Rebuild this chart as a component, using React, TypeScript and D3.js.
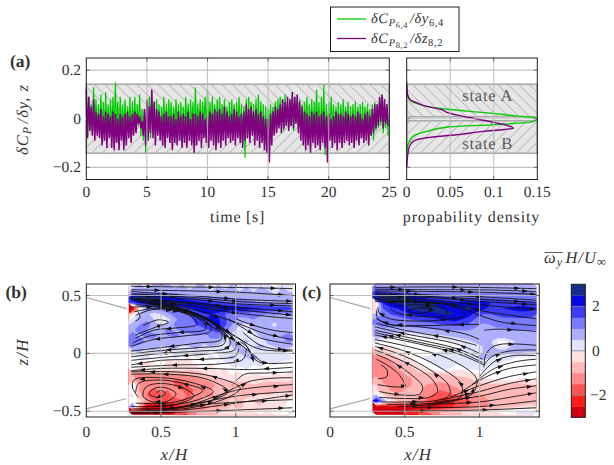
import React from 'react';
import * as d3 from 'd3';

const width = 614;
const height = 465;

// time series, one hi/lo pair per 0.2 s bin, in units of 0.01
const greenHi = [
  7,9,6,13,8, 6,10,7,11,6, 8,9,15,7,9, 6,8,5,9,7, 9,6,10,4,3,
  7,9,11,6,8, 6,5,9,6,8, 7,5,8,6,7, 5,9,6,8,7, 13,6,8,7,9,
  12,7,9,6,8, 9,6,8,5,7, 8,6,7,9,6, 5,8,9,7,6, 8,10,7,6,5,
  4,6,5,7,8, 9,8,10,7,8, 10,9,7,8,6, 7,9,6,8,7, 12,7,9,14,6,
  7,9,6,5,7, 6,8,5,7,5, 6,7,5,6,7, 5,6,4,6,7, 6,8,9,7,6,
];
const greenLo = [
  -7,-5,-6,-3,-5, -6,-4,-5,-7,-4, -5,-6,-3,-7,-5, -4,-6,-5,-7,-4, -5,-3,-7,-9,-14,
  -6,-8,-4,-7,-5, -6,-4,-7,-5,-3, -6,-5,-4,-7,-6, -5,-3,-6,-4,-7, -5,-4,-6,-3,-5,
  -6,-4,-5,-7,-4, -6,-3,-5,-7,-4, -5,-7,-4,-6,-9, -16,-8,-6,-5,-7, -5,-7,-8,-9,-14,
  -6,-4,-3,-5,-2, -3,-5,-2,-4,-3, -5,-2,-4,-6,-5, -4,-6,-5,-7,-4, -5,-8,-6,-15,-7,
  -6,-4,-7,-5,-8, -5,-7,-4,-6,-5, -7,-5,-6,-8,-5, -6,-4,-7,-9,-5, -4,-3,-6,-4,-7,
];
const purpleHi = [
  12,9,5,8,3, 2,4,1,3,2, 1,3,2,0,2, 1,2,3,1,2, 3,2,1,-1,4,
  8,5,12,7,4, 3,1,2,3,1, 1,2,0,3,1, 2,1,3,0,2, 2,1,3,2,0,
  1,3,2,4,3, 4,2,5,3,1, 2,4,3,1,2, 3,6,4,5,3, 4,2,3,1,0,
  0,2,3,5,4, 6,8,7,9,8, 11,9,10,7,5, 3,2,1,3,2, 3,1,2,3,1,
  2,0,1,3,2, 2,1,3,2,1, 2,1,3,2,0, 2,3,1,4,6, 6,9,10,8,6,
];
const purpleLo = [
  -8,-5,-7,-9,-7, -8,-11,-9,-12,-8, -12,-13,-10,-13,-9, -13,-11,-8,-10,-7, -6,-2,-4,-7,-11,
  -9,-6,-8,-11,-7, -9,-11,-12,-8,-10, -13,-10,-11,-9,-12, -10,-12,-9,-11,-14, -11,-9,-12,-8,-10,
  -12,-9,-11,-13,-10, -12,-9,-11,-8,-10, -9,-11,-8,-10,-12, -9,-8,-10,-7,-11, -9,-12,-10,-13,-14,
  -18,-11,-7,-6,-4, -6,-4,-3,-5,-3, -4,-2,-6,-9,-11, -13,-11,-14,-10,-12, -11,-13,-10,-12,-18,
  -9,-12,-10,-13,-10, -12,-10,-9,-11,-10, -12,-9,-11,-8,-10, -9,-11,-7,-6,-4, -3,-1,-4,-2,-3,
];

// probability density against deltaCp
const pdfGreen: [number, number][] = [
  [0, 0.154], [0, 0.105], [0.002, 0.085], [0.006, 0.07], [0.014, 0.06], [0.023, 0.051], [0.05, 0.038],
  [0.09, 0.025], [0.125, 0.012], [0.15, 0.002], [0.145, -0.012], [0.096, -0.025], [0.05, -0.033],
  [0.023, -0.052], [0.009, -0.068], [0.004, -0.087], [0.001, -0.11], [0, -0.14],
];
const pdfPurple: [number, number][] = [
  [0, 0.14], [0.001, 0.1], [0.004, 0.078], [0.012, 0.065], [0.023, 0.051], [0.04, 0.038], [0.047, 0.025],
  [0.073, 0.004], [0.1, -0.015], [0.1225, -0.039], [0.112, -0.044], [0.088, -0.052], [0.057, -0.066],
  [0.023, -0.078], [0.009, -0.09], [0.004, -0.107], [0.002, -0.13], [0, -0.2],
];

const timeTicks = [0, 5, 10, 15, 20, 25];
const pdfTicks = [0, 0.05, 0.1, 0.15];
const cpTicks = [-0.2, 0, 0.2];
const xhTicks = [0, 0.5, 1];
const zhTicks = [-0.5, 0, 0.5];
const stateLimits = [-0.142, -0.008, 0.008, 0.142];

const cbLevels = [-3, -2.5, -2, -1.5, -1, -0.5, 0, 0.5, 1, 1.5, 2, 2.5];
const cbColors = ['#d2000f', '#ff1c1c', '#ff5252', '#ff8a8a', '#ffb9b9', '#ffe0e0',
  '#e2e2fa', '#aeaeff', '#7a7aff', '#3c3cf8', '#0808e0', '#172c8c'];

const gridCols = 23;
const gridRows = 24;

const fieldB = [
  .4,.6,.3,.7,.5,.7,.4,.6,.3,.5,.6,.2,.6,.4,.6,.3,.5,.2,.5,.4,.1,.5,.3,
  .7,.8,.9,.6,.8,.7,.8,.6,.7,.6,.7,.5,.7,.6,.6,.5,.6,.5,.5,.6,.4,.6,.5,
  3,3,2.9,2.8,2.6,2.3,2,1.7,1.4,1.3,1.1,1.1,1,1,.9,.9,.8,.8,.7,.7,.7,.6,.6,
  1.5,2,2.2,2.3,2.4,2.6,2.7,2.7,2.6,2.3,2.1,1.9,1.7,1.6,1.5,1.3,1.2,1.1,1,1,.9,.9,.8,
  -3,-.5,.8,1.2,1.3,1.4,1.5,1.7,1.9,2.2,2.5,2.6,2.6,2.4,2.3,2.3,2.2,2.1,2,1.9,1.8,1.8,1.7,
  -.5,.5,.6,.3,.5,.9,1.2,1.3,1.5,1.7,1.9,2,1.7,1.5,1.3,1.1,1.3,1.1,1.2,1,1.1,.9,1,
  .3,.7,.9,.5,-.2,.3,.9,1.2,1.4,1.6,1.9,2.1,2.1,1.6,1.2,.9,.8,1,.7,.8,.6,.8,.7,
  .6,1,1.2,.8,.3,.6,1.1,1.3,1.2,1.5,1.7,1.9,2.2,1.6,1,.5,.3,.7,.5,.6,.4,.7,.8,
  .9,1.2,1,.7,.9,1.1,.9,1.1,1.3,1,1.3,1.5,1.7,1.2,.7,.2,.1,.5,.8,.5,.6,.9,.7,
  1.3,.9,1.1,1.2,.8,1,1.2,.9,.7,1,.8,1.1,1.2,.8,.3,.5,.2,.1,.6,.9,.7,1,1.2,
  1.5,1.3,.9,.8,1,.7,.5,.8,1,.6,.7,.9,.8,.4,.6,.3,.6,.3,.2,.6,1,.8,1.1,
  1,.8,.6,.9,.4,.6,.8,.3,.5,.7,.3,.5,.4,.2,.5,.7,.3,.5,.7,.4,.5,.8,.6,
  .3,.5,.1,.3,.6,.1,.2,.5,0,.3,.5,0,.2,.5,.3,.5,.7,.4,.2,.4,.3,.2,.1,
  0,.2,.4,0,.1,-.1,.3,0,-.2,.2,0,.3,.1,.4,.6,.3,.5,.7,.4,.5,.2,.4,.2,
  -.1,0,-.3,-.2,.1,-.4,-.3,-.5,-.2,-.1,.1,-.2,.2,.1,.3,.5,.3,.2,.4,.1,.3,0,.1,
  .1,-.2,-.1,.1,-.2,-.1,-.3,-.1,-.4,-.2,-.1,-.3,0,-.2,.1,-.1,.2,0,.1,-.1,0,.1,0,
  -1,-1.1,-1,-.9,-1,-1.1,-.9,-1,-.8,-.9,-.6,-.4,-.2,-.3,-.1,-.2,0,-.2,-.1,0,-.2,-.1,-.2,
  -.8,-1.3,-1.2,-1.4,-1.2,-1.3,-1.5,-1.4,-1.3,-1.1,-1,-.8,-.6,-.4,-.3,-.2,-.3,-.5,-.3,-.4,-.2,-.3,-.2,
  .2,-1,-1.3,-1.1,-1,-1.2,-1.6,-1.8,-1.4,-1.5,-1.1,-1.2,-.9,-.7,-1.1,-.9,-.7,-.5,-.6,-.7,-.9,-.8,-.7,
  .1,-1.1,-1.4,-1.7,-1.3,-1.5,-1.3,-1.5,-1.8,-1.3,-1.1,-1,-.8,-.6,-.8,-1,-.7,-.8,-.9,-.6,-.7,-.5,-.6,
  .2,-.6,-1.5,-1.8,-1.9,-1.6,-1.4,-1.3,-1.6,-1.2,-1,-1.2,-.8,-.5,-.6,-.4,-.7,-.5,-.3,-.5,-.3,-.4,-.2,
  .1,-.3,-1.2,-1.5,-1.7,-1.9,-1.7,-1.6,-1.3,-1.1,-.9,-.7,-.9,-.6,-.4,-.6,-.3,-.5,-.6,-.3,-.2,-.4,-.1,
  1.2,-.9,-2.7,-2.8,-2.9,-2.8,-2.4,-2,-1.8,-1.4,-1.6,-1,-1.1,-.8,-.5,-.7,-.4,-.3,-.5,-.2,-.4,-.2,-.1,
  -3,-3,-3,-3,-2.9,-2.6,-2,-1.7,-1.2,-1,-.8,-.6,-.5,-.4,-.3,-.2,-.4,-.2,-.1,-.2,-.1,0,.2,
];

const fieldC = [
  1,.9,.9,.9,.9,.9,.9,.9,.8,.8,.8,.8,.8,.8,.8,.8,.8,.8,.8,.8,.8,.7,.7,
  1.7,1.6,1.5,1.3,1.2,1.1,1,1,1,1,1,1,1,1,1,1,1,1,1,1,1,1,1,
  2.9,3,3,2.9,2.7,2.4,2.1,1.9,1.7,1.6,1.5,1.4,1.3,1.3,1.3,1.3,1.3,1.3,1.3,1.2,1.2,1.2,1.2,
  -.2,2,2.4,2.5,2.6,2.6,2.6,2.6,2.5,2.4,2.2,2.1,2.2,2.4,2.4,2.2,2,1.9,1.8,1.7,1.7,1.7,1.6,
  -.2,1.5,1.8,2,2.3,2.6,2.9,2.9,2.7,2.5,2.4,2.4,2.5,2.6,2.4,2.1,1.9,1.9,2,2.1,2.2,2.2,2.1,
  .5,1.3,1.5,1.6,1.8,2,2.2,2.3,2.4,2.5,2.6,2.5,2.4,2.2,1.8,1.5,1.5,1.6,1.7,1.7,1.8,1.8,1.7,
  1,1.2,1.3,1.3,1.4,1.5,1.6,1.7,1.8,2,2.1,2.2,2,1.8,1.4,1.2,1.2,1.3,1.4,1.4,1.4,1.4,1.3,
  1,1.1,1.1,1.2,1.2,1.2,1.2,1.3,1.3,1.4,1.5,1.6,1.6,1.4,1.1,.9,1,1.1,1.1,1.2,1.2,1.2,1.1,
  .9,.9,.8,.7,.7,.7,.8,.8,.9,.9,1,1,1,1,.9,.8,.9,.9,.9,1,1,1,1,
  .7,.6,.4,.2,.1,.1,.1,.2,.3,.4,.5,.6,.7,.8,.8,.7,.7,.8,.8,.8,.8,.8,.8,
  .3,.1,0,-.1,0,0,.1,.1,0,0,.1,.2,.3,.4,.6,.7,.6,.1,0,.4,.6,.6,.6,
  0,-.2,-.2,-.1,0,0,0,0,0,0,0,0,.1,.3,.3,.5,.7,.3,.1,.5,.5,.5,.5,
  -.6,-.6,-.3,-.2,-.1,0,0,0,0,.2,.2,.3,.3,.3,.4,.5,.5,.7,.7,.6,.6,.5,.5,
  -1.2,-1.1,-.8,-.5,-.3,-.1,.1,.2,.3,.3,.3,.4,.4,.4,.5,.6,.5,.3,.2,.2,.1,.1,.1,
  -1.4,-1.3,-1.1,-.8,-.5,-.4,-.1,.1,.2,.3,.3,.3,.3,.3,.4,.4,.3,.2,.1,.1,0,0,0,
  -1.4,-1.4,-1.2,-1,-.8,-.6,-.3,-.2,-.1,.2,.3,-.1,-.1,.2,.3,.2,.1,.1,0,0,0,0,0,
  -1.3,-1.4,-1.2,-1.1,-1,-.8,-.6,-.6,-.6,-.6,-.5,-.4,-.4,-.3,-.3,.1,0,0,0,0,0,0,0,
  -.7,-1.2,-1.3,-1.2,-1.1,-1,-.8,-.8,-.8,-.8,-.7,-.7,-.6,-.6,-.4,-.3,-.2,-.1,-.1,0,-.2,-.2,0,
  -.5,-.9,-1.2,-1.2,-1.1,-1,-.9,-1,-1.1,-1.2,-1.1,-.9,-.8,-.7,-.6,-.6,-.6,-.6,-.6,-.7,-.7,-.6,-.5,
  -.4,-.7,-1,-1.2,-1,-.9,-.9,-1.1,-1.3,-1.5,-1.4,-1.2,-1,-.9,-.8,-.8,-.7,-.7,-.7,-.7,-.7,-.7,-.7,
  .6,-.4,-.7,-.9,-.9,-.9,-1,-1.2,-1.6,-1.8,-1.7,-1.6,-1.5,-1.2,-1.1,-1,-.8,-.8,-.8,-.7,-.7,-.7,-.7,
  2.5,1,-.2,-.5,-.7,-.9,-1.2,-1.6,-2,-2.2,-2.3,-2,-1.8,-1.6,-1.4,-1.2,-1,-.9,-.8,-.8,-.7,-.7,-.7,
  -2.8,-2.9,-2.6,-2.6,-2.7,-2.7,-2.6,-2.7,-2.7,-2.6,-2.3,-2,-1.7,-1.5,-1.3,-1.1,-.9,-.8,-.6,-.6,-.5,-.4,-.4,
  -3,-3,-2.8,-2.6,-2.5,-2.3,-2,-1.6,-1.2,-1,-.8,-.6,-.5,-.4,-.3,-.3,-.2,-.2,0,.1,.2,.2,.2,
];

type Pt = [number, number];

// streamlines in (x/H, z/H), listed along the flow direction
const streamsB: Pt[][] = [
  [[.3,.58],[.6,.575],[1,.57],[1.38,.56]],
  [[.3,.55],[.7,.54],[1,.53],[1.38,.5]],
  [[.3,.535],[.7,.5],[1,.47],[1.38,.45]],
  [[.3,.515],[.7,.485],[1,.45],[1.38,.43]],
  [[.3,.5],[.7,.47],[1,.43],[1.38,.41]],
  [[.3,.48],[.7,.44],[1,.4],[1.38,.36]],
  [[.3,.47],[.7,.43],[1,.38],[1.38,.33]],
  [[.3,.465],[.65,.42],[1,.35],[1.38,.3]],
  [[.35,.45],[.65,.4],[.95,.29],[1.2,.17],[1.38,.12]],
  [[.4,.44],[.65,.38],[.85,.27],[1.02,.13],[1.15,.04],[1.38,.02]],
  [[.45,.43],[.7,.35],[.9,.18],[1.05,.06],[1.15,-.05],[1.2,-.09]],
  [[.55,.42],[.78,.32],[.95,.18],[1.05,.1],[1.1,0],[1.12,-.07]],
  [[1,.3],[1.1,.25],[1.25,.2],[1.38,.18]],
  [[.95,.3],[1.05,.22],[1.15,.14],[1.38,.08]],
  [[.33,.33],[.45,.38],[.6,.37],[.72,.3],[.74,.25],[.6,.22],[.45,.2],[.33,.13]],
  [[.32,.36],[.48,.39],[.66,.35],[.78,.27],[.8,.21],[.62,.18],[.42,.15],[.31,.09]],
  [[.3,.4],[.5,.4],[.7,.34],[.83,.24],[.83,.19],[.65,.15],[.45,.12],[.3,.06]],
  [[.33,.42],[.6,.39],[.78,.32],[.9,.2],[.9,.12],[.75,.09],[.5,.05],[.3,.02]],
  [[.36,.44],[.62,.39],[.82,.28],[.93,.16],[.92,.08],[.75,.05],[.5,.025],[.3,-.005]],
  [[.4,.43],[.68,.37],[.85,.26],[.96,.12],[.95,.05],[.75,.02],[.5,0],[.3,-.03]],
  [[.5,.42],[.74,.33],[.92,.2],[1,.1],[.99,.03],[.85,0],[.55,-.03],[.3,-.06]],
  [[.33,.16],[.45,.22],[.55,.27],[.48,.29],[.38,.24]],
  [[.34,.37],[.36,.31],[.33,.28]],
  [[1.02,.04],[1,-.02],[.8,-.05],[.5,-.06],[.3,-.1]],
  [[1.07,.04],[1.05,-.05],[.9,-.09],[.6,-.1],[.3,-.12]],
  [[1.38,-.12],[1.1,-.14],[.8,-.13],[.5,-.13],[.3,-.15]],
  [[1.03,.1],[1.08,.05],[1.12,-.04],[1.17,-.08],[1.38,-.08]],
  [[1.05,.18],[1.15,.08],[1.25,.04],[1.38,.03]],
  [[.47,-.34],[.5,-.32],[.53,-.35],[.48,-.38],[.42,-.35],[.46,-.3],[.54,-.3],[.6,-.35],[.55,-.41],[.45,-.42],[.38,-.37],[.4,-.29],[.5,-.26],[.65,-.3],[.72,-.37],[.6,-.44],[.45,-.46]],
  [[.33,-.43],[.55,-.43],[.7,-.38],[.78,-.32],[.65,-.26],[.48,-.23],[.35,-.26],[.33,-.34]],
  [[.3,-.46],[.55,-.45],[.75,-.4],[.85,-.33],[.7,-.25],[.5,-.21],[.32,-.23],[.31,-.3],[.35,-.38]],
  [[.3,-.48],[.6,-.47],[.85,-.4],[.95,-.33],[.8,-.22],[.55,-.18],[.3,-.18]],
  [[.3,-.5],[.7,-.47],[.95,-.38],[1.03,-.3],[.85,-.2],[.6,-.16],[.3,-.16]],
  [[.3,-.52],[.8,-.5],[1.38,-.47]],
  [[.3,-.51],[.65,-.49],[1,-.43],[1.38,-.36]],
  [[.5,-.49],[.9,-.43],[1.38,-.4]],
  [[.6,-.47],[1,-.37],[1.38,-.33]],
  [[.7,-.45],[1,-.32],[1.38,-.27]],
  [[.85,-.4],[1.1,-.24],[1.38,-.21]],
  [[1,-.24],[1.06,-.18],[1.2,-.17],[1.38,-.16]],
];

const streamsC: Pt[][] = [
  [[.3,.57],[.7,.575],[1,.57],[1.38,.56]],
  [[.3,.555],[.7,.55],[1,.55],[1.38,.535]],
  [[.3,.54],[.7,.535],[1,.53],[1.38,.51]],
  [[.3,.525],[.7,.505],[1,.49],[1.38,.46]],
  [[.3,.51],[.7,.49],[1,.47],[1.38,.44]],
  [[.3,.5],[.7,.48],[1,.45],[1.38,.42]],
  [[.3,.48],[.7,.46],[1,.42],[1.38,.38]],
  [[.3,.465],[.8,.43],[1.05,.36],[1.38,.3]],
  [[.3,.45],[.8,.42],[1.02,.32],[1.15,.27],[1.38,.24]],
  [[.52,.37],[.6,.395],[.68,.38],[.65,.355],[.55,.35],[.52,.37]],
  [[.43,.41],[.6,.42],[.78,.38],[.78,.33],[.6,.32],[.45,.35],[.4,.39]],
  [[.38,.44],[.6,.44],[.85,.4],[.9,.33],[.75,.29],[.55,.28],[.4,.3],[.33,.35],[.32,.4]],
  [[1,.25],[.9,.25],[.6,.24],[.4,.25],[.32,.3],[.31,.38]],
  [[1.03,.2],[1.12,.21],[1.38,.19]],
  [[1,.12],[.9,.17],[.6,.23],[.4,.25],[.31,.3]],
  [[.98,.07],[.8,.13],[.5,.2],[.31,.26]],
  [[1,0],[.85,.08],[.5,.17],[.3,.23]],
  [[1.02,-.05],[.85,.04],[.55,.13],[.3,.2]],
  [[1.02,-.08],[.85,.02],[.58,.1],[.3,.18]],
  [[1.03,-.1],[.85,0],[.6,.08],[.3,.16]],
  [[.45,-.46],[.75,-.43],[.95,-.35],[.98,-.22],[.8,-.05],[.55,.05],[.3,.12]],
  [[.38,-.44],[.7,-.43],[.87,-.38],[.88,-.27],[.72,-.11],[.5,.02],[.3,.09]],
  [[.34,-.42],[.5,-.42],[.7,-.41],[.8,-.36],[.79,-.27],[.63,-.11],[.45,0],[.3,.06]],
  [[.33,-.38],[.5,-.39],[.66,-.38],[.72,-.33],[.68,-.22],[.54,-.1],[.4,-.02],[.3,.03]],
  [[.33,-.33],[.48,-.36],[.6,-.35],[.62,-.29],[.52,-.16],[.4,-.06],[.31,-.01]],
  [[.32,-.27],[.44,-.29],[.5,-.28],[.46,-.18],[.38,-.1],[.31,-.05]],
  [[.32,-.22],[.38,-.2],[.38,-.14],[.34,-.1]],
  [[1.03,-.12],[1.04,-.02],[1.08,.05],[1.15,.08],[1.38,.07]],
  [[1.03,-.1],[1.08,-.03],[1.2,.02],[1.38,.03]],
  [[1,-.2],[1.1,-.07],[1.22,-.02],[1.38,-.02]],
  [[.95,-.27],[1.1,-.13],[1.25,-.07],[1.38,-.05]],
  [[.88,-.33],[1.05,-.2],[1.2,-.13],[1.38,-.1]],
  [[.8,-.38],[1,-.28],[1.2,-.2],[1.38,-.16]],
  [[.75,-.4],[1,-.33],[1.2,-.26],[1.38,-.22]],
  [[.7,-.42],[1,-.37],[1.2,-.31],[1.38,-.28]],
  [[.65,-.44],[1,-.42],[1.2,-.38],[1.38,-.34]],
  [[.55,-.47],[1,-.46],[1.38,-.41]],
  [[.45,-.5],[1,-.49],[1.38,-.47]],
];

const bodyEdges: Pt[][] = [
  [[0,.483],[.27,.387]],
  [[0,-.48],[.27,-.39]],
];

const serif = '"Liberation Serif", serif';
const inkColor = '#333';
const gridColor = '#b9b9b9';

const xTime = d3.scaleLinear().domain([0, 25]).range([86.3, 389.3]);
const yCp = d3.scaleLinear().domain([-0.25, 0.25]).range([179.5, 58]);
const xPdf = d3.scaleLinear().domain([0, 0.15]).range([406.7, 537.3]);
const yZ = d3.scaleLinear().domain([-0.55, 0.6]).range([417, 284]);
const yBar = d3.scaleLinear().domain([-3, 3]).range([417.3, 284.3]);

const zigzag = (hi: number[], lo: number[]): Pt[] =>
  hi.flatMap((h, i) => [[i * 0.2, h / 100], [i * 0.2 + 0.1, lo[i] / 100]] as Pt[]);

const timeLine = d3.line<Pt>().x((d) => xTime(d[0])).y((d) => yCp(d[1]));
const pdfLine = d3.line<Pt>().x((d) => xPdf(d[0])).y((d) => yCp(d[1])).curve(d3.curveMonotoneY);

const fmt = (v: number) => String(v).replace('-', '\u2212');

// walk along a polyline and drop arrow heads every so many pixels
function arrowsAlong(pts: Pt[], first: number, step: number) {
  const out: { x: number; y: number; a: number }[] = [];
  let walked = 0;
  let next = first;
  for (let i = 1; i < pts.length; i++) {
    const [x0, y0] = pts[i - 1];
    const [x1, y1] = pts[i];
    const len = Math.hypot(x1 - x0, y1 - y0);
    while (next <= walked + len && len > 0) {
      const f = (next - walked) / len;
      out.push({ x: x0 + (x1 - x0) * f, y: y0 + (y1 - y0) * f, a: (Math.atan2(y1 - y0, x1 - x0) * 180) / Math.PI });
      next += step;
    }
    walked += len;
  }
  return out;
}

const Ticks = ({ xs, ys, x, y }: { xs: number[]; ys: number[]; x: any; y: any }) => {
  const [x0, x1] = x.range();
  const [y1, y0] = y.range();
  return (
    <g>
      {xs.map((t) => (
        <g key={`x${t}`}>
          <line x1={x(t)} x2={x(t)} y1={y0} y2={y1} stroke={gridColor} strokeWidth={1.1} opacity={0.85} />
          <line x1={x(t)} x2={x(t)} y1={y0} y2={y0 + 3.5} stroke="#555" strokeWidth={0.8} />
          <line x1={x(t)} x2={x(t)} y1={y1} y2={y1 - 3.5} stroke="#555" strokeWidth={0.8} />
        </g>
      ))}
      {ys.map((t) => (
        <g key={`y${t}`}>
          <line x1={x0} x2={x1} y1={y(t)} y2={y(t)} stroke={gridColor} strokeWidth={1.1} opacity={0.85} />
          <line x1={x0} x2={x0 + 3.5} y1={y(t)} y2={y(t)} stroke="#555" strokeWidth={0.8} />
          <line x1={x1} x2={x1 - 3.5} y1={y(t)} y2={y(t)} stroke="#555" strokeWidth={0.8} />
        </g>
      ))}
    </g>
  );
};

const Frame = ({ x, y }: { x: any; y: any }) => {
  const [x0, x1] = x.range();
  const [y1, y0] = y.range();
  return <rect x={x0} y={y0} width={x1 - x0} height={y1 - y0} fill="none" stroke="#1c1c1c" strokeWidth={1} />;
};

const StateBands = ({ x }: { x: any }) => {
  const [x0, x1] = x.range();
  const band = (lo: number, hi: number, pat: string) => (
    <g>
      <rect x={x0} y={yCp(hi)} width={x1 - x0} height={yCp(lo) - yCp(hi)} fill="#e6e6e6" />
      <rect x={x0} y={yCp(hi)} width={x1 - x0} height={yCp(lo) - yCp(hi)} fill={`url(#${pat})`} stroke="#a9a9a9" strokeWidth={1.6} />
    </g>
  );
  return (
    <g>
      {band(stateLimits[2], stateLimits[3], 'hatchA')}
      {band(stateLimits[0], stateLimits[1], 'hatchB')}
    </g>
  );
};

const FlowPanel = ({ field, streams, left, right, label, labelX }: {
  field: number[]; streams: Pt[][]; left: number; right: number; label: string; labelX: number;
}) => {
  const x = d3.scaleLinear().domain([0, 1.4]).range([left, right]);
  // grid cells run from 0.285 to 1.38 in x/H and from 0.6 to -0.53 in z/H
  const gx = d3.scaleLinear().domain([0, gridCols]).range([x(0.285), x(1.38)]);
  const gy = d3.scaleLinear().domain([0, gridRows]).range([yZ(0.6), yZ(-0.53)]);
  const thresholds = [-99, ...cbLevels.slice(1, 6), -0.15, 0.15, ...cbLevels.slice(7)];
  const colors = [...cbColors.slice(0, 5), cbColors[5], '#ffffff', ...cbColors.slice(6)];
  const contours = d3.contours().size([gridCols, gridRows]).smooth(true).thresholds(thresholds)(field);
  const path = d3.geoPath(d3.geoTransform({
    point(px: number, py: number) {
      (this as any).stream.point(gx(px), gy(py));
    },
  }));
  const streamLine = d3.line<Pt>().curve(d3.curveCatmullRom.alpha(0.5));
  const pts = streams.map((s) => s.map((d) => [x(d[0]), yZ(d[1])] as Pt));
  return (
    <g>
      {contours.map((c, i) => (
        <path key={i} d={path(c as any) || ''} fill={colors[i]} stroke={colors[i]} strokeWidth={0.3} />
      ))}
      {pts.map((s, i) => (
        <path key={i} d={streamLine(s) || ''} fill="none" stroke="#111" strokeWidth={0.9} />
      ))}
      {pts.flatMap((s, i) => arrowsAlong(s, 18 + (i % 4) * 8, 62)).map((a, i) => (
        <path key={i} d="M3,0L-2.5,2L-2.5,-2Z" fill="#111" transform={`translate(${a.x},${a.y}) rotate(${a.a})`} />
      ))}
      {bodyEdges.map((e, i) => (
        <line key={i} x1={x(e[0][0])} y1={yZ(e[0][1])} x2={x(e[1][0])} y2={yZ(e[1][1])} stroke="#a5a5a5" strokeWidth={1.2} />
      ))}
      <Ticks xs={[0.5, 1]} ys={zhTicks} x={x} y={yZ} />
      <Frame x={x} y={yZ} />
      {xhTicks.map((t) => (
        <text key={t} x={x(t)} y={437} textAnchor="middle" fontSize={15.5}>{t}</text>
      ))}
      <text x={x(0.59)} y={460} textAnchor="middle" fontSize={17} fontStyle="italic" letterSpacing={1.2}>x/H</text>
      <text x={labelX} y={298} fontSize={17.5} fontWeight="bold">{label}</text>
    </g>
  );
};

const Sub = ({ base, sub, subsub, end, size = 10.5 }: {
  base: string; sub: string; subsub?: string; end?: boolean; size?: number;
}) => (
  <>
    <tspan fontStyle="italic">{base}</tspan>
    <tspan fontSize={size} dy={3} fontStyle={end ? 'normal' : 'italic'}>{sub}</tspan>
    {subsub && <tspan fontSize={8.5} dy={2}>{subsub}</tspan>}
    {!end && <tspan dy={subsub ? -5 : -3}>{'\u200a'}</tspan>}
  </>
);

export default function App() {
  return (
    <svg
      width={width}
      height={height}
      style={{ position: 'absolute', left: 0, top: 0, background: '#fff' }}
      fontFamily={serif}
      fill={inkColor}
      textRendering="geometricPrecision"
    >
      <defs>
        <pattern id="hatchA" width={7.5} height={7.5} patternUnits="userSpaceOnUse" patternTransform="rotate(45)">
          <line x1={0} x2={7.5} y1={0} y2={0} stroke="#a2a2a2" strokeWidth={1.2} />
        </pattern>
        <pattern id="hatchB" width={7.5} height={7.5} patternUnits="userSpaceOnUse" patternTransform="rotate(-45)">
          <line x1={0} x2={7.5} y1={0} y2={0} stroke="#a2a2a2" strokeWidth={1.2} />
        </pattern>
      </defs>

      {/* legend */}
      <rect x={330.5} y={7} width={128.5} height={44.5} fill="#fff" stroke="#1c1c1c" strokeWidth={1} />
      <line x1={337} x2={366} y1={19} y2={19} stroke="#00cc00" strokeWidth={1.3} />
      <line x1={337} x2={366} y1={38.5} y2={38.5} stroke="#800080" strokeWidth={1.3} />
      <text x={371} y={23} fontSize={14.5} letterSpacing={0.6}>
        <Sub base={'\u03b4C'} sub="P" subsub="6,4" />
        <tspan fontStyle="italic">{'/\u03b4y'}</tspan>
        <Sub base="" sub="6,4" end />
      </text>
      <text x={371} y={43} fontSize={14.5} letterSpacing={0.6}>
        <Sub base={'\u03b4C'} sub="P" subsub="8,2" />
        <tspan fontStyle="italic">{'/\u03b4z'}</tspan>
        <Sub base="" sub="8,2" end />
      </text>

      {/* panel a, time series */}
      <text x={10} y={67} fontSize={17.5} fontWeight="bold">(a)</text>
      <StateBands x={xTime} />
      <Ticks xs={[]} ys={cpTicks} x={xTime} y={yCp} />
      <path d={timeLine(zigzag(greenHi, greenLo)) || ''} fill="none" stroke="#00cc00" strokeWidth={1.2} />
      <path d={timeLine(zigzag(purpleHi, purpleLo)) || ''} fill="none" stroke="#800080" strokeWidth={1.5} />
      <Ticks xs={timeTicks.slice(1, -1)} ys={[]} x={xTime} y={yCp} />
      <Frame x={xTime} y={yCp} />
      {timeTicks.map((t) => (
        <text key={t} x={xTime(t)} y={197} textAnchor="middle" fontSize={15.5}>{t}</text>
      ))}
      {cpTicks.map((t) => (
        <text key={t} x={81} y={yCp(t) + 5} textAnchor="end" fontSize={15.5}>{fmt(t)}</text>
      ))}
      <text x={237.5} y={222} textAnchor="middle" fontSize={16} letterSpacing={0.7}>time [s]</text>
      <text transform={`translate(28,119.5) rotate(-90)`} textAnchor="middle" fontSize={16.5} letterSpacing={1}>
        <Sub base={'\u03b4C'} sub="P" size={12} />
        <tspan fontStyle="italic">{'/\u03b4y, z'}</tspan>
      </text>

      {/* panel a, density */}
      <StateBands x={xPdf} />
      <path d={pdfLine(pdfGreen) || ''} fill="none" stroke="#00cc00" strokeWidth={1.4} />
      <path d={pdfLine(pdfPurple) || ''} fill="none" stroke="#800080" strokeWidth={1.4} />
      <Ticks xs={pdfTicks.slice(1, -1)} ys={cpTicks} x={xPdf} y={yCp} />
      <Frame x={xPdf} y={yCp} />
      {pdfTicks.map((t) => (
        <text key={t} x={xPdf(t)} y={197} textAnchor="middle" fontSize={15.5}>{t}</text>
      ))}
      <text x={471.5} y={222} textAnchor="middle" fontSize={16} letterSpacing={0.9}>propability density</text>
      <text x={487.7} y={100.5} textAnchor="middle" fontSize={16.5} fill="#5c5c5c" letterSpacing={0.8}>state A</text>
      <text x={487.7} y={149} textAnchor="middle" fontSize={16.5} fill="#5c5c5c" letterSpacing={0.8}>state B</text>

      {/* panels b and c */}
      <FlowPanel field={fieldB} streams={streamsB} left={86.3} right={295.5} label="(b)" labelX={5.5} />
      <FlowPanel field={fieldC} streams={streamsC} left={330} right={539.3} label="(c)" labelX={302} />
      {zhTicks.map((t) => (
        <text key={t} x={81} y={yZ(t) + 5} textAnchor="end" fontSize={15.5}>{fmt(t)}</text>
      ))}
      <text transform={`translate(28,352) rotate(-90)`} textAnchor="middle" fontSize={17} fontStyle="italic" letterSpacing={1.2}>z/H</text>

      {/* colorbar */}
      {cbLevels.map((l, i) => (
        <rect key={l} x={571.3} y={yBar(l + 0.5)} width={14} height={yBar(l) - yBar(l + 0.5) + 0.3} fill={cbColors[i]} />
      ))}
      {[-2, 0, 2].map((t) => (
        <g key={t}>
          <line x1={571.3} x2={585.3} y1={yBar(t)} y2={yBar(t)} stroke="#888" strokeWidth={0.8} />
          <text x={t < 0 ? 590 : 592} y={yBar(t) + 5} fontSize={15.5}>{fmt(t)}</text>
        </g>
      ))}
      <rect x={571.3} y={284.3} width={14} height={133} fill="none" stroke="#1c1c1c" strokeWidth={1} />
      <text x={544} y={263} fontSize={16.5} fontStyle="italic" letterSpacing={1}>
        <Sub base={'\u03c9'} sub="y" size={12} />
        <tspan>H/U</tspan>
        <tspan dy={3} fontSize={13} fontStyle="normal">{'\u221e'}</tspan>
      </text>
      <line x1={544.5} x2={563} y1={252.5} y2={252.5} stroke={inkColor} strokeWidth={0.8} />
    </svg>
  );
}
